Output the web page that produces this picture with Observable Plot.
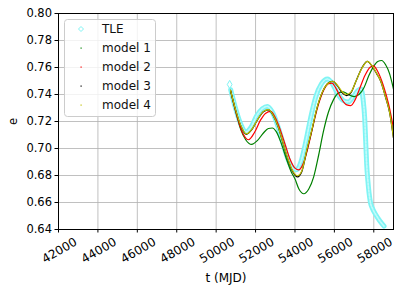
<!DOCTYPE html>
<html><head><meta charset="utf-8">
<script src="https://cdn.jsdelivr.net/npm/d3@7"></script>
<script src="https://cdn.jsdelivr.net/npm/@observablehq/plot@0.6"></script>
<style>
body{margin:0;background:#fff;}
#wrap{position:relative;width:399px;height:291px;font-family:"DejaVu Sans",sans-serif;}
#legend{position:absolute;left:64px;top:19px;}
</style>
</head><body>
<div id="wrap"></div>
<script>
// ---- data ----
const xTicks = [42000, 44000, 46000, 48000, 50000, 52000, 54000, 56000, 58000];
const yTicks = [0.64, 0.66, 0.68, 0.70, 0.72, 0.74, 0.76, 0.78, 0.80];
const seriesNames = ["TLE", "model 1", "model 2", "model 3", "model 4"];
const seriesColors = ["#80f4f4", "#008000", "#ff0000", "#000000", "#bfbf00"];
const tleInner = "#c4fbfb";

const tleFirstT = [50685];
const tleFirstE = [0.7474];
const tleT = [50740, 51000, 51250, 51500, 51780, 52050, 52350, 52600, 52850, 53100, 53350, 53600, 53850, 54080, 54300, 54550, 54800, 55050, 55350, 55650, 55900, 56150, 56450, 56700, 56950, 57200, 57350, 57460, 57540, 57590, 57640, 57700, 57760, 57830, 57950, 58100, 58300, 58520];
const tleE = [0.7435, 0.7290, 0.7180, 0.7122, 0.7160, 0.7240, 0.7295, 0.7312, 0.7270, 0.7180, 0.7060, 0.6940, 0.6860, 0.6842, 0.6900, 0.7050, 0.7230, 0.7380, 0.7480, 0.7515, 0.7480, 0.7410, 0.7355, 0.7345, 0.7380, 0.7430, 0.7440, 0.7360, 0.7220, 0.7050, 0.6880, 0.6760, 0.6670, 0.6600, 0.6550, 0.6510, 0.6465, 0.6425];

const m1T = [50730, 51000, 51250, 51500, 51800, 52100, 52400, 52650, 52850, 53050, 53300, 53550, 53800, 54000, 54200, 54450, 54700, 54950, 55200, 55450, 55700, 55950, 56200, 56450, 56700, 57000, 57250, 57500, 57750, 58000, 58200, 58400, 58600, 58800, 59000];
const m1E = [0.7430, 0.7270, 0.7140, 0.7065, 0.7030, 0.7060, 0.7115, 0.7148, 0.7152, 0.7125, 0.7040, 0.6930, 0.6830, 0.6775, 0.6700, 0.6665, 0.6700, 0.6790, 0.6950, 0.7130, 0.7270, 0.7360, 0.7410, 0.7420, 0.7400, 0.7385, 0.7400, 0.7450, 0.7540, 0.7610, 0.7645, 0.7652, 0.7620, 0.7555, 0.7440];

const m2T = [50730, 51000, 51300, 51640, 51950, 52250, 52500, 52770, 53000, 53250, 53500, 53750, 54000, 54200, 54450, 54700, 54950, 55200, 55450, 55700, 55880, 56100, 56350, 56600, 56830, 57050, 57300, 57550, 57800, 57980, 58200, 58500, 58750, 59000];
const m2E = [0.7430, 0.7270, 0.7130, 0.7065, 0.7120, 0.7210, 0.7260, 0.7275, 0.7230, 0.7140, 0.7030, 0.6920, 0.6855, 0.6842, 0.6900, 0.7030, 0.7190, 0.7330, 0.7430, 0.7480, 0.7485, 0.7440, 0.7370, 0.7325, 0.7318, 0.7360, 0.7450, 0.7540, 0.7600, 0.7612, 0.7570, 0.7460, 0.7330, 0.7150];

const m3T = [50730, 51000, 51250, 51530, 51800, 52100, 52400, 52650, 52900, 53150, 53400, 53650, 53900, 54130, 54350, 54600, 54850, 55100, 55400, 55700, 55930, 56150, 56400, 56620, 56850, 57100, 57400, 57670, 57900, 58150, 58350, 58600, 58800, 59000];
const m3E = [0.7430, 0.7280, 0.7168, 0.7105, 0.7138, 0.7213, 0.7273, 0.7286, 0.7243, 0.7158, 0.7036, 0.6915, 0.6825, 0.6790, 0.6830, 0.6985, 0.7130, 0.7290, 0.7420, 0.7487, 0.7497, 0.7465, 0.7412, 0.7392, 0.7415, 0.7500, 0.7598, 0.7645, 0.7612, 0.7553, 0.7498, 0.7378, 0.7268, 0.7078];

const m4T = [50730, 51000, 51250, 51530, 51800, 52100, 52400, 52650, 52900, 53150, 53400, 53650, 53900, 54130, 54350, 54600, 54850, 55100, 55400, 55700, 55930, 56150, 56400, 56600, 56850, 57100, 57400, 57680, 57900, 58150, 58350, 58600, 58800, 59000];
const m4E = [0.7430, 0.7280, 0.7170, 0.7108, 0.7140, 0.7215, 0.7275, 0.7288, 0.7245, 0.7160, 0.7040, 0.6920, 0.6830, 0.6798, 0.6835, 0.6990, 0.7135, 0.7292, 0.7422, 0.7485, 0.7498, 0.7470, 0.7420, 0.7400, 0.7420, 0.7500, 0.7595, 0.7645, 0.7615, 0.7555, 0.7500, 0.7380, 0.7270, 0.7080];

// ---- build rows ----
const rows = (T, E) => T.map((t, i) => ({t, e: E[i]}));
const tle = rows(tleT, tleE);
const tleFirst = rows(tleFirstT, tleFirstE);
const models = [rows(m1T, m1E), rows(m2T, m2E), rows(m3T, m3E), rows(m4T, m4E)];

const font = "DejaVu Sans";
const chart = Plot.plot({
  width: 399, height: 291,
  marginLeft: 58, marginRight: 6, marginTop: 13, marginBottom: 62,
  style: {fontFamily: font, fontSize: "11.5px", background: "white", color: "black"},
  x: {domain: [42000, 59000]},
  y: {domain: [0.64, 0.80]},
  marks: [
    Plot.gridX(xTicks, {stroke: "#b0b0b0", strokeOpacity: 1, strokeWidth: 0.8}),
    Plot.gridY(yTicks, {stroke: "#b0b0b0", strokeOpacity: 1, strokeWidth: 0.8}),
    Plot.line(tle, {x: "t", y: "e", stroke: seriesColors[0], strokeWidth: 5, curve: "monotone-x", clip: true}),
    Plot.line(tle, {x: "t", y: "e", stroke: tleInner, strokeWidth: 1.6, strokeDasharray: "2,1.5", curve: "monotone-x", clip: true}),
    Plot.dot(tleFirst, {x: "t", y: "e", symbol: "diamond", r: 2.5, stroke: seriesColors[0], strokeWidth: 1, fill: "none"}),
    ...models.map((m, i) => Plot.line(m, {x: "t", y: "e", stroke: seriesColors[i + 1], strokeWidth: 1.2, curve: "monotone-x", clip: true})),
    Plot.frame({stroke: "black", strokeWidth: 1}),
    Plot.axisY(yTicks, {tickFormat: d3.format(".2f"), tickSize: 3.5, tickPadding: 3, fontSize: 11.5, label: "e", labelAnchor: "center", labelArrow: "none", labelOffset: 50}),
    Plot.axisX(xTicks, {tickFormat: () => "", tickSize: 3.5, label: "t (MJD)", labelAnchor: "center", labelArrow: "none", labelOffset: 52, fontSize: 12}),
    Plot.text(xTicks, {x: d => d, frameAnchor: "bottom", dy: 21, dx: 1, rotate: -30, text: d => String(d), textAnchor: "middle", lineAnchor: "middle", fontSize: 12})
  ]
});
document.getElementById("wrap").appendChild(chart);

// ---- legend overlay ----
const lg = d3.select("#wrap").append("svg").attr("id", "legend").attr("width", 93).attr("height", 99)
  .style("font-family", font);
lg.append("rect").attr("x", 0.5).attr("y", 0.5).attr("width", 91).attr("height", 97).attr("rx", 3)
  .attr("fill", "white").attr("fill-opacity", 0.8).attr("stroke", "#cccccc");
seriesNames.forEach((name, i) => {
  const cy = 10 + i * 19;
  if (i === 0) {
    lg.append("path").attr("d", `M17,${cy - 2.5}L19.5,${cy}L17,${cy + 2.5}L14.5,${cy}Z`)
      .attr("fill", "none").attr("stroke", seriesColors[0]).attr("stroke-width", 1);
  } else {
    lg.append("rect").attr("x", 16.5).attr("y", cy - 0.5).attr("width", 1.2).attr("height", 1.2).attr("fill", seriesColors[i]);
  }
  lg.append("text").attr("x", 38).attr("y", cy).attr("dy", "0.36em").attr("font-size", 12).attr("fill", "#111").text(name);
});
</script>
</body></html>
